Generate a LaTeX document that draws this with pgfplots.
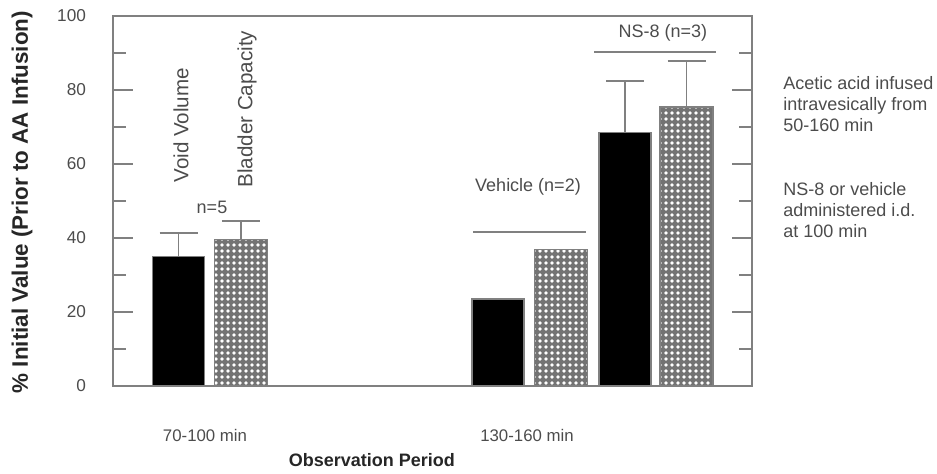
\documentclass[border=0pt]{standalone}
\usepackage{fontspec}
\setmainfont{Liberation Sans}
\usepackage{pgfplots}
\pgfplotsset{compat=1.18}
\usetikzlibrary{patterns.meta}

\definecolor{axgray}{gray}{0.5}
\definecolor{txtgray}{gray}{0.3}

\begin{document}
\begin{tikzpicture}
\begin{axis}[
  scale only axis,
  width=319.5pt, height=185pt,
  xmin=0, xmax=639, ymin=0, ymax=100,
  clip=false,
  axis line style={axgray, line width=0.9pt},
  xtick={92,414},
  xticklabels={70-100 min, 130-160 min},
  x tick style={draw=none},
  xticklabel style={font=\fontsize{8.4}{10}\selectfont, text=txtgray, yshift=-18pt},
  ytick={0,20,...,100},
  minor y tick num=1,
  ytick pos=both, yticklabel pos=left,
  tick align=inside,
  major tick length=10pt, minor tick length=6.5pt,
  y tick style={axgray, line width=0.9pt},
  yticklabel style={font=\fontsize{8.6}{10}\selectfont, text=txtgray, xshift=-10pt},
  /pgf/number format/assume math mode=true,
  xlabel={Observation Period},
  xlabel style={font=\bfseries\fontsize{9}{11}\selectfont, text=black!85, at={(axis description cs:0.405,-0.2)}, anchor=center},
  ylabel={\% Initial Value (Prior to AA Infusion)},
  ylabel style={font=\bfseries\fontsize{11.2}{13}\selectfont, text=black!85, at={(axis description cs:-0.1424,0.497)}, anchor=center},
]
% error bars (drawn first so the bars sit on top of the stems)
\addplot[draw=none, mark=none, forget plot,
  error bars/.cd, y dir=plus, y explicit, error mark=|,
  error bar style={draw=axgray, line width=0.9pt},
  error mark options={draw=axgray, line width=0.9pt, mark size=9.5pt}]
  coordinates {(65.5,35.1) +- (0,6.3) (128,39.7) +- (0,4.9)
               (512,68.6) +- (0,13.8) (573.5,75.4) +- (0,12.4)};
% Void Volume (solid)
\addplot[ybar, bar shift=0, bar width=52, fill=black, draw=axgray, line width=0.6pt]
  coordinates {(65.5,35.1) (385,23.5) (512,68.6)};
% Bladder Capacity (hatched)
\addplot[ybar, bar shift=0, bar width=53, fill=black!55, draw=axgray, line width=0.6pt,
  postaction={pattern={Dots[distance=3pt, radius=0.95pt]}, pattern color=white}]
  coordinates {(128,39.7) (448,37.0) (573.5,75.4)};

% group lines
\draw[axgray, line width=0.9pt] (axis cs:360,41.6) -- (axis cs:473,41.6);
\draw[axgray, line width=0.9pt] (axis cs:481,90.3) -- (axis cs:603,90.3);

\begin{scope}[every node/.style={text=txtgray, inner sep=0pt}]
\node[rotate=90, anchor=west, font=\fontsize{10.3}{12}\selectfont] at (axis cs:68,54.9) {Void Volume};
\node[rotate=90, anchor=west, font=\fontsize{10.3}{12}\selectfont] at (axis cs:134,53.5) {Bladder Capacity};
\node[font=\fontsize{9}{11}\selectfont] at (axis cs:99,48.4) {n=5};
\node[font=\fontsize{9}{11}\selectfont] at (axis cs:415,53.8) {Vehicle (n=2)};
\node[font=\fontsize{9}{11}\selectfont] at (axis cs:550,95.4) {NS-8 (n=3)};
\node[anchor=north west, align=left, font=\fontsize{9}{10.5}\selectfont] at (axis cs:670,83.8)
  {Acetic acid infused\\intravesically from\\50-160 min};
\node[anchor=north west, align=left, font=\fontsize{9}{10.5}\selectfont] at (axis cs:670,55.1)
  {NS-8 or vehicle\\administered i.d.\\at 100 min};
\end{scope}
\end{axis}
\pgfresetboundingbox
\path (-56.5pt,-43.5pt) rectangle (412pt,193pt);
\end{tikzpicture}
\end{document}
